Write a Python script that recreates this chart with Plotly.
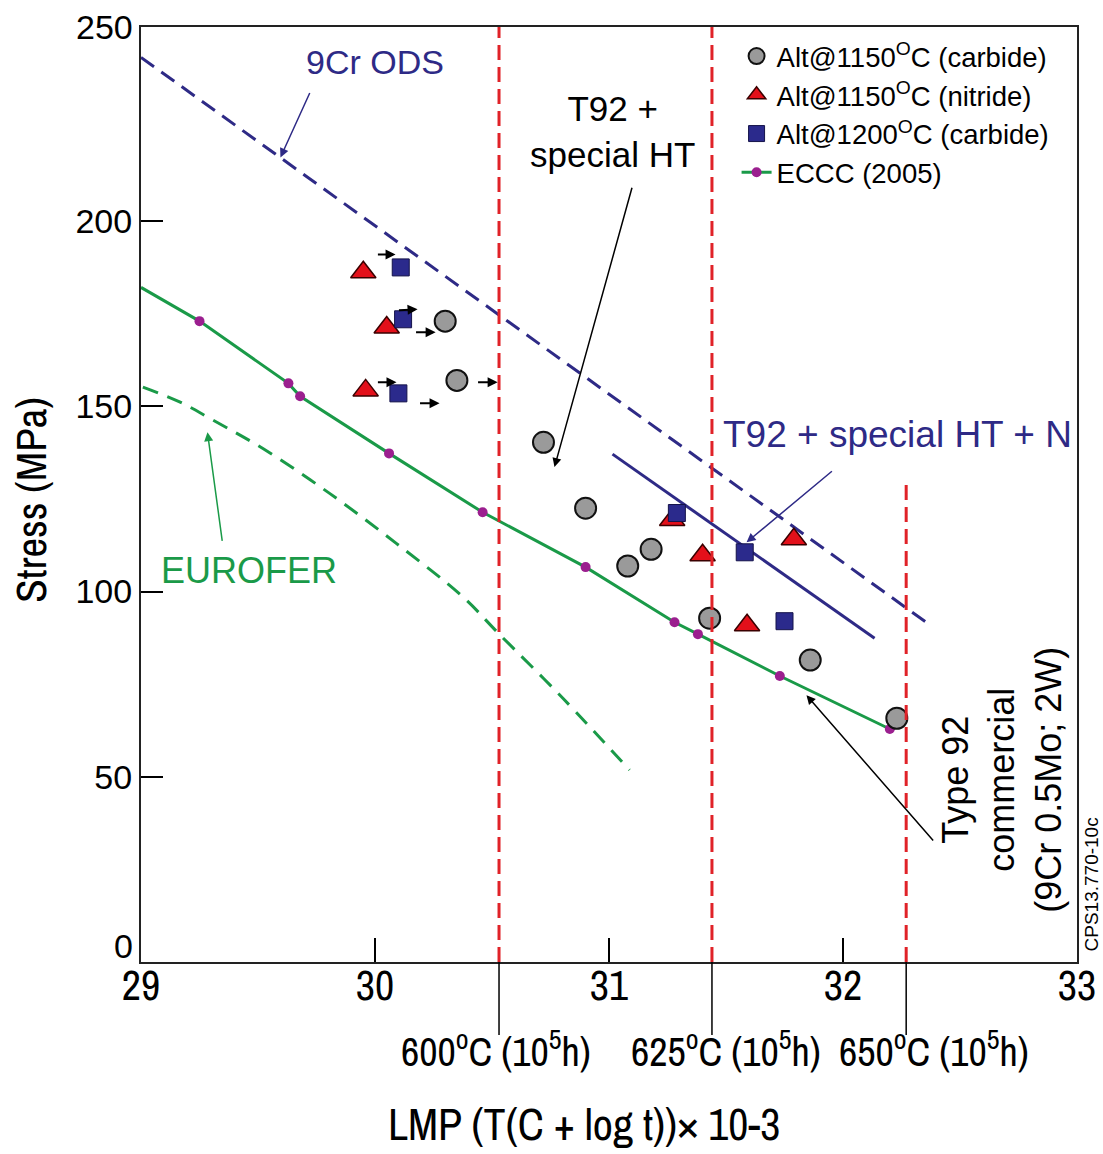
import plotly.graph_objects as go

# ---------------- data ----------------
carb1150_lmp = [30.30, 30.35, 30.72, 30.90, 31.08, 31.18, 31.43, 31.86, 32.23]
carb1150_stress = [173.0, 157.0, 140.3, 122.5, 106.9, 111.4, 92.8, 81.5, 65.8]

nitr1150_lmp = [29.95, 30.05, 29.96, 31.27, 31.40, 31.59, 31.79]
nitr1150_stress = [186.2, 171.3, 154.3, 119.3, 109.8, 90.9, 114.1]

carb1200_lmp = [30.11, 30.12, 30.10, 31.29, 31.58, 31.75]
carb1200_stress = [187.5, 173.5, 153.5, 121.2, 110.6, 92.0]

eccc_lmp = [29.25, 29.63, 29.68, 30.06, 30.46, 30.90, 31.28, 31.38, 31.73, 32.20]
eccc_stress = [173.0, 156.2, 152.7, 137.3, 121.4, 106.6, 91.7, 88.5, 77.2, 62.9]
eccc_line_lmp = [29.0] + eccc_lmp
eccc_line_stress = [182.1] + eccc_stress

ods_lmp = [29.0, 32.36]
ods_stress = [244.2, 91.5]

t92n_lmp = [31.015, 32.135]
t92n_stress = [137.1, 87.4]

eurofer_lmp = [29.008, 29.165, 29.307, 29.521, 29.806, 30.091, 30.375, 30.528, 30.803, 31.088]
eurofer_stress = [155.2, 151.2, 146.3, 138.6, 126.5, 113.0, 98.6, 88.7, 71.2, 51.8]

ref_lmp = [30.53, 31.44, 32.27]
ref_top = [252.4, 252.4, 129.2]
ref_label_lmp = [30.515, 31.502, 32.387]
ref_labels = ["600<sup>o</sup>C (10<sup>5</sup>h)",
              "625<sup>o</sup>C (10<sup>5</sup>h)",
              "650<sup>o</sup>C (10<sup>5</sup>h)"]

x_ticks = [29, 30, 31, 32, 33]
y_ticks = [50, 100, 150, 200]

# ---------------- styles ----------------
BLUE = "#2e2a86"
GREEN = "#1a9a48"
RED = "#e02228"
PURPLE = "#9b1f8f"
REG = "Liberation Sans, Arial, Helvetica, sans-serif"
NARROW = "Archivo Narrow, Liberation Sans, Arial, sans-serif"

fig = go.Figure()

# curves
fig.add_trace(go.Scatter(x=ods_lmp, y=ods_stress, mode="lines", showlegend=False,
                         line=dict(color=BLUE, width=3, dash="16px,9px")))
fig.add_trace(go.Scatter(x=eurofer_lmp, y=eurofer_stress, mode="lines", showlegend=False,
                         line=dict(color=GREEN, width=3, dash="16px,10px", shape="spline")))
fig.add_trace(go.Scatter(x=t92n_lmp, y=t92n_stress, mode="lines", showlegend=False,
                         line=dict(color=BLUE, width=3)))
fig.add_trace(go.Scatter(x=eccc_line_lmp, y=eccc_line_stress, mode="lines", showlegend=False,
                         line=dict(color=GREEN, width=3)))
fig.add_trace(go.Scatter(x=eccc_lmp, y=eccc_stress, mode="markers", showlegend=False,
                         marker=dict(color=PURPLE, size=10)))

# data points
fig.add_trace(go.Scatter(x=carb1150_lmp, y=carb1150_stress, mode="markers",
                         name="Alt@1150<sup>O</sup>C (carbide)",
                         marker=dict(symbol="circle", size=21, color="#9a9a9a",
                                     line=dict(color="#111", width=2))))
fig.add_trace(go.Scatter(x=nitr1150_lmp, y=nitr1150_stress, mode="markers",
                         name="Alt@1150<sup>O</sup>C (nitride)",
                         marker=dict(symbol="triangle-up", size=22, color="#e3101a",
                                     line=dict(color="#3a0000", width=1.5))))
fig.add_trace(go.Scatter(x=carb1200_lmp, y=carb1200_stress, mode="markers",
                         name="Alt@1200<sup>O</sup>C (carbide)",
                         marker=dict(symbol="square", size=17, color="#2b2a8c",
                                     line=dict(color="#15134a", width=1))))
fig.add_trace(go.Scatter(x=[None], y=[None], mode="lines+markers", name="ECCC (2005)",
                         line=dict(color=GREEN, width=3),
                         marker=dict(color=PURPLE, size=10)))

# reference temperature lines (drawn over the points, as in the reference)
for lx, top in zip(ref_lmp, ref_top):
    fig.add_trace(go.Scatter(x=[lx, lx], y=[0, top], mode="lines", showlegend=False,
                             line=dict(color=RED, width=3, dash="15px,7px")))

ann = []

def arrow(x, y, ax, ay, color="black", width=1.5, head=2, size=1.2):
    ann.append(dict(x=x, y=y, ax=ax, ay=ay, xref="x", yref="y", axref="x", ayref="y",
                    text="", showarrow=True, arrowhead=head, arrowsize=size,
                    arrowwidth=width, arrowcolor=color, standoff=0))

# small shift arrows
arrow(30.088, 191.0, 30.006, 191.0, width=2, size=1.0)
arrow(30.182, 176.2, 30.096, 175.9, width=2, size=1.0)
arrow(30.259, 170.0, 30.169, 170.0, width=2, size=1.0)
arrow(30.092, 156.5, 30.006, 156.5, width=2, size=1.0)
arrow(30.276, 150.8, 30.186, 150.8, width=2, size=1.0)
arrow(30.524, 156.5, 30.434, 156.5, width=2, size=1.0)

# label arrows
arrow(29.596, 217.2, 29.724, 235.0, color=BLUE, width=1.5)
arrow(30.767, 133.6, 31.100, 209.4, color="black", width=1.5)
arrow(31.588, 113.3, 31.959, 132.8, color=BLUE, width=1.5)
arrow(29.284, 143.0, 29.348, 113.3, color=GREEN, width=1.5)
arrow(31.844, 72.0, 32.391, 32.4, color="black", width=1.5)

def text(x, y, s, size, color="black", family=REG, xref="x", yref="y", angle=0,
         xanchor="center", yanchor="middle", align="center"):
    ann.append(dict(x=x, y=y, xref=xref, yref=yref, text=s, showarrow=False,
                    textangle=angle, xanchor=xanchor, yanchor=yanchor, align=align,
                    font=dict(size=size, color=color, family=family)))

text(30.0, 242.9, "9Cr ODS", 34, BLUE)
text(31.015, 224.2, "T92 +<br>special HT", 35)
text(32.233, 142.5, "T92 + special HT + N", 37, BLUE)
text(29.462, 105.8, "EUROFER", 36, GREEN)
text(32.678, 49.1, "Type 92<br>commercial<br>(9Cr 0.5Mo; 2W)", 36, angle=-90)
text(1.0155, 20.8, "CPS13.770-10c", 19, xref="paper", angle=-90)

# corner tick labels
text(-0.0064, 1.0, "250", 34, xref="paper", yref="paper", xanchor="right")
text(-0.0064, 0.017, "0", 34, xref="paper", yref="paper", xanchor="right")

# below-axis temperature markers
for lx, lbl_x, lbl in zip(ref_lmp, ref_label_lmp, ref_labels):
    fig.add_shape(type="line", xref="x", yref="paper", x0=lx, x1=lx, y0=0, y1=-0.078,
                  line=dict(color="black", width=1.5))
    text(lbl_x, -0.0930, lbl, 40, family=NARROW, yref="paper")

# axis titles
text(0.4738, -0.1735, "LMP (T(C + log t))× 10-3", 44, family=NARROW, xref="paper", yref="paper")
text(-0.118, 0.494, "Stress (MPa)", 43, family=NARROW, xref="paper", yref="paper", angle=-90)

fig.update_layout(
    width=1103, height=1154,
    margin=dict(l=141, r=26, t=27, b=192),
    paper_bgcolor="white", plot_bgcolor="white",
    annotations=ann,
    showlegend=True,
    legend=dict(x=0.6363, y=0.995, xanchor="left", yanchor="top",
                font=dict(size=27.5, family=REG, color="black"),
                bgcolor="rgba(0,0,0,0)", tracegroupgap=0),
    xaxis=dict(range=[29, 33], tickvals=x_ticks, ticks="inside", ticklen=24, tickwidth=1.5,
               tickcolor="black", showline=True, mirror=True, linecolor="#222", linewidth=2,
               showgrid=False, zeroline=False, automargin=False, ticklabelstandoff=-14,
               tickfont=dict(size=42, family=NARROW, color="black")),
    yaxis=dict(range=[0, 252.4], tickvals=y_ticks, ticks="inside", ticklen=22, tickwidth=1.5,
               tickcolor="black", showline=True, mirror=True, linecolor="#222", linewidth=2,
               showgrid=False, zeroline=False, automargin=False,
               tickfont=dict(size=34, family=REG, color="black")),
)

fig.write_html("out.html")
